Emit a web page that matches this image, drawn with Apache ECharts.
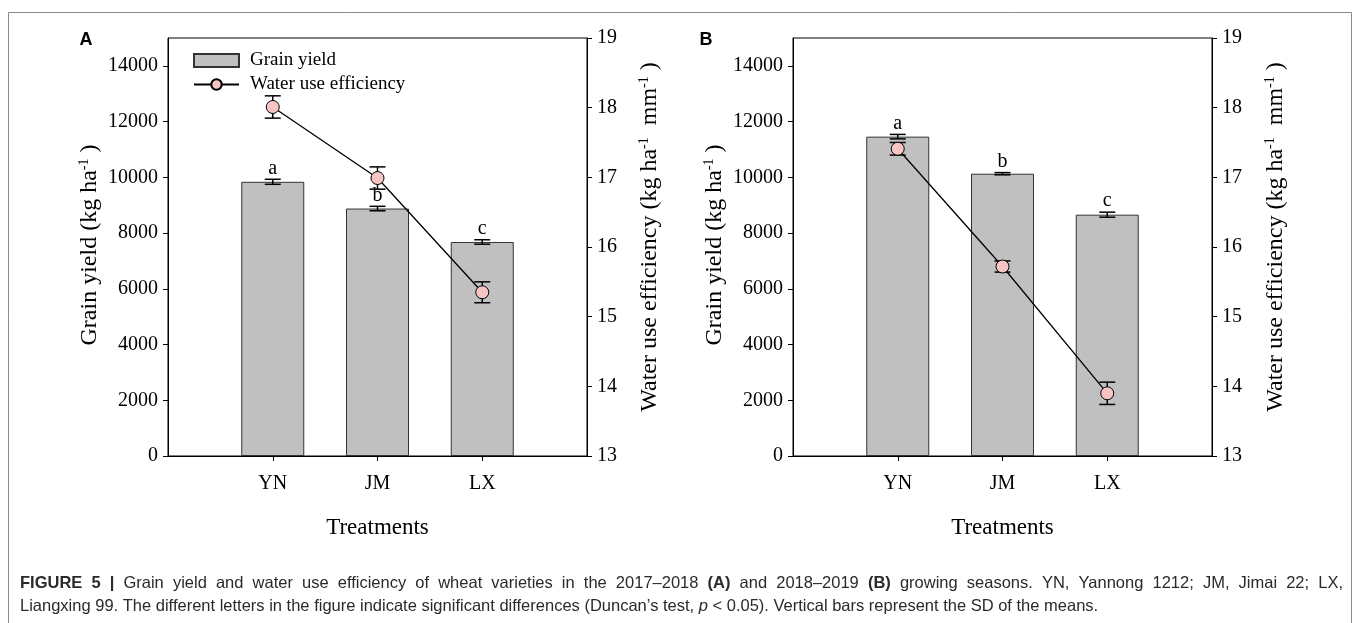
<!DOCTYPE html>
<html>
<head>
<meta charset="utf-8">
<title>Grain yield and water use efficiency</title>
<script src="https://cdn.jsdelivr.net/npm/echarts@6/dist/echarts.min.js"></script>
<style>
  html, body { margin: 0; padding: 0; background: #fff; }
  #chart { width: 1358px; height: 623px; }
</style>
</head>
<body>
<div id="chart"></div>
<script>
// 品种
const categories = ['YN', 'JM', 'LX'];
// 2017–2018 (A)
const yieldA = [9840, 8880, 7680];
const yieldSdA = [90, 80, 80];
const wueA = [18.01, 16.99, 15.35];
const wueSdA = [0.16, 0.16, 0.15];
const lettersA = ['a', 'b', 'c'];
// 2018–2019 (B)
const yieldB = [11460, 10130, 8660];
const yieldSdB = [80, 40, 90];
const wueB = [17.41, 15.72, 13.90];
const wueSdB = [0.09, 0.08, 0.16];
const lettersB = ['a', 'b', 'c'];
// 坐标轴
const yieldMin = 0, yieldMax = 15000, yieldStep = 2000;
const wueMin = 13, wueMax = 19, wueStep = 1;

const serif = 'Liberation Serif';
const sans = 'Liberation Sans';
// 两边留空的类目，让三根柱子落在 1/4、2/4、3/4 处
const xCats = [''].concat(categories, [' ']);

function errRender(capW, letters) {
  return function (params, api) {
    const x = api.value(0);
    const lo = api.coord([x, api.value(1)]);
    const hi = api.coord([x, api.value(2)]);
    const st = { stroke: '#000', lineWidth: 1.5 };
    const children = [
      { type: 'line', shape: { x1: lo[0], y1: lo[1], x2: hi[0], y2: hi[1] }, style: st },
      { type: 'line', shape: { x1: lo[0] - capW / 2, y1: lo[1], x2: lo[0] + capW / 2, y2: lo[1] }, style: st },
      { type: 'line', shape: { x1: hi[0] - capW / 2, y1: hi[1], x2: hi[0] + capW / 2, y2: hi[1] }, style: st }
    ];
    if (letters) {
      children.push({
        type: 'text', x: hi[0], y: hi[1] - 11,
        style: { text: letters[params.dataIndex], fontSize: 20, fontFamily: serif, fill: '#000', align: 'center', verticalAlign: 'middle' }
      });
    }
    return { type: 'group', children: children };
  };
}

function panelSeries(idx, ys, ysd, ws, wsd, letters) {
  return [
    {
      name: 'Grain yield', type: 'bar', xAxisIndex: idx, yAxisIndex: idx * 2, z: 2,
      barWidth: 63,
      itemStyle: { color: '#c0c0c0', borderColor: '#333', borderWidth: 1 },
      data: categories.map((c, i) => [c, ys[i]])
    },
    {
      type: 'custom', xAxisIndex: idx, yAxisIndex: idx * 2, z: 3,
      encode: { x: 0, y: [1, 2] },
      renderItem: errRender(16, letters),
      data: categories.map((c, i) => [c, ys[i] - ysd[i], ys[i] + ysd[i]])
    },
    {
      type: 'custom', xAxisIndex: idx, yAxisIndex: idx * 2 + 1, z: 4,
      encode: { x: 0, y: [1, 2] },
      renderItem: errRender(16, null),
      data: categories.map((c, i) => [c, ws[i] - wsd[i], ws[i] + wsd[i]])
    },
    {
      name: 'Water use efficiency', type: 'line', xAxisIndex: idx, yAxisIndex: idx * 2 + 1, z: 5,
      symbol: 'circle', symbolSize: 13,
      lineStyle: { color: '#000', width: 1.3 },
      itemStyle: { color: '#f7c4c4', borderColor: '#000', borderWidth: 1 },
      data: categories.map((c, i) => [c, ws[i]])
    }
  ];
}

function xAxisOf(gridIndex) {
  return {
    type: 'category', gridIndex: gridIndex, data: xCats, boundaryGap: false,
    axisLine: { lineStyle: { color: '#000', width: 1 } },
    axisTick: { length: 5, interval: (i) => i > 0 && i < xCats.length - 1, lineStyle: { color: '#000' } },
    axisLabel: { color: '#000', fontSize: 20, fontFamily: serif, margin: 18, interval: 0 },
    name: 'Treatments', nameLocation: 'middle', nameGap: 60,
    nameTextStyle: { color: '#000', fontSize: 23, fontFamily: serif }
  };
}

function yAxesOf(gridIndex) {
  return [
    {
      type: 'value', gridIndex: gridIndex, position: 'left',
      min: yieldMin, max: yieldMax, interval: yieldStep,
      splitLine: { show: false },
      axisLine: { show: true, lineStyle: { color: '#000', width: 1 } },
      axisTick: { show: true, length: 5, lineStyle: { color: '#000' } },
      axisLabel: { color: '#000', fontSize: 20, fontFamily: serif, margin: 10, showMaxLabel: false, formatter: (v) => String(v) }
    },
    {
      type: 'value', gridIndex: gridIndex, position: 'right',
      min: wueMin, max: wueMax, interval: wueStep,
      splitLine: { show: false },
      axisLine: { show: true, lineStyle: { color: '#000', width: 1 } },
      axisTick: { show: true, length: 5, lineStyle: { color: '#000' } },
      axisLabel: { color: '#000', fontSize: 20, fontFamily: serif, margin: 10, formatter: (v) => String(v) }
    }
  ];
}

const titleRich = {
  n: { fontSize: 24, fontFamily: serif, lineHeight: 26, fill: '#000' },
  s: { fontSize: 14, fontFamily: serif, lineHeight: 14, verticalAlign: 'top', fill: '#000' }
};
function vTitle(x, y, text) {
  return {
    type: 'text', x: x, y: y, rotation: Math.PI / 2,
    style: { text: text, rich: titleRich, align: 'center', verticalAlign: 'middle', fill: '#000' }
  };
}
const yieldTitle = '{n|Grain yield (kg ha}{s|-1}{n| )}';
const wueTitle = '{n|Water use efficiency (kg ha}{s|-1}{n|  mm}{s|-1}{n| )}';

// 图注：第一行两端对齐，第二行左对齐
const capSize = 16.5;
const capColor = '#2a2a2a';
const capRich = {
  r: { fontSize: capSize, fontFamily: sans, fill: capColor },
  b: { fontSize: capSize, fontFamily: sans, fontWeight: 'bold', fill: capColor },
  i: { fontSize: capSize, fontFamily: sans, fontStyle: 'italic', fill: capColor }
};
const capLine1 = [
  ['b', 'FIGURE 5 |'],
  ['r', 'Grain yield and water use efficiency of wheat varieties in the 2017–2018'],
  ['b', '(A)'],
  ['r', 'and 2018–2019'],
  ['b', '(B)'],
  ['r', 'growing seasons. YN, Yannong 1212; JM, Jimai 22; LX,']
];
const capLine2 = '{r|Liangxing 99. The different letters in the figure indicate significant differences (Duncan’s test, }{i|p}{r| < 0.05). Vertical bars represent the SD of the means.}';

function justifyLine(pieces, width) {
  const ctx = document.createElement('canvas').getContext('2d');
  const words = [];
  pieces.forEach(([s, t]) => t.split(' ').forEach(w => words.push([s, w])));
  let sum = 0;
  words.forEach(([s, w]) => {
    ctx.font = (s === 'b' ? 'bold ' : '') + capSize + 'px "' + sans + '"';
    sum += ctx.measureText(w).width;
  });
  const gap = (width - sum) / (words.length - 1);
  capRich.sp = { width: gap, fontSize: capSize, fontFamily: sans, fill: capColor };
  return words.map(([s, w]) => '{' + s + '|' + w + '}').join('{sp| }');
}
const capLeft = 20, capRight = 1343;
const capText1 = justifyLine(capLine1, capRight - capLeft);

const option = {
  animation: false,
  backgroundColor: '#fff',
  grid: [
    { left: 168, top: 38, width: 419, height: 418, show: true, borderColor: '#000', borderWidth: 1, containLabel: false },
    { left: 793, top: 38, width: 419, height: 418, show: true, borderColor: '#000', borderWidth: 1, containLabel: false }
  ],
  legend: {
    data: [{ name: 'Grain yield', icon: 'rect' }, { name: 'Water use efficiency' }],
    orient: 'vertical', left: 188, top: 46,
    itemWidth: 45, itemHeight: 13, itemGap: 5,
    selectedMode: false,
    textStyle: { color: '#000', fontSize: 19, fontFamily: serif, padding: [0, 0, 0, 6] }
  },
  xAxis: [xAxisOf(0), xAxisOf(1)],
  yAxis: yAxesOf(0).concat(yAxesOf(1)),
  series: panelSeries(0, yieldA, yieldSdA, wueA, wueSdA, lettersA)
    .concat(panelSeries(1, yieldB, yieldSdB, wueB, wueSdB, lettersB)),
  graphic: [
    { type: 'rect', shape: { x: 8.5, y: 12.5, width: 1343, height: 700 }, style: { fill: 'none', stroke: '#8a8a8a', lineWidth: 1 }, silent: true },
    { type: 'text', x: 86, y: 40, style: { text: 'A', fontSize: 18, fontWeight: 'bold', fontFamily: sans, fill: '#000', align: 'center', verticalAlign: 'middle' } },
    { type: 'text', x: 706, y: 40, style: { text: 'B', fontSize: 18, fontWeight: 'bold', fontFamily: sans, fill: '#000', align: 'center', verticalAlign: 'middle' } },
    vTitle(90, 245, yieldTitle),
    vTitle(650, 237, wueTitle),
    vTitle(715, 245, yieldTitle),
    vTitle(1276, 237, wueTitle),
    { type: 'text', x: capLeft, y: 583, style: { text: capText1, rich: capRich, align: 'left', verticalAlign: 'middle' } },
    { type: 'text', x: capLeft, y: 606, style: { text: capLine2, rich: capRich, align: 'left', verticalAlign: 'middle' } }
  ]
};

const chart = echarts.init(document.getElementById('chart'));
chart.setOption(option);
window.addEventListener('resize', chart.resize);
</script>
</body>
</html>
